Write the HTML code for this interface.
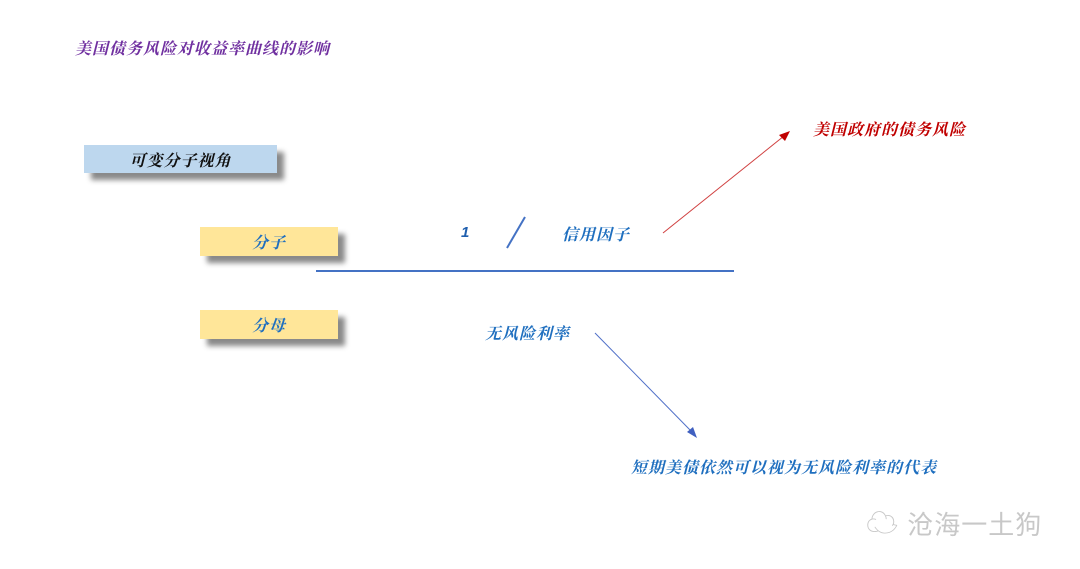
<!DOCTYPE html>
<html><head><meta charset="utf-8"><style>
body{margin:0;width:1080px;height:569px;background:#fff;position:relative;overflow:hidden;font-family:"Liberation Serif","Noto Serif CJK SC",serif;font-style:italic}
.t{position:absolute;white-space:nowrap;line-height:1;font-size:16px;letter-spacing:1px;font-weight:bold}
.box{position:absolute;box-shadow:7px 7px 5px #8a8a8a;display:flex;align-items:center;justify-content:center;font-size:16px;letter-spacing:1px;font-weight:bold}
</style></head><body>
<div class="t" style="left:75px;top:42px;color:#7030a0">美国债务风险对收益率曲线的影响</div>
<div class="box" style="left:84px;top:145px;width:193px;height:28px;background:#bdd7ee;color:#111">可变分子视角</div>
<div class="box" style="left:200px;top:227px;width:138px;height:29px;background:#ffe699;color:#1f6fbf">分子</div>
<div class="box" style="left:200px;top:310px;width:138px;height:29px;background:#ffe699;color:#1f6fbf">分母</div>
<div class="t" style="left:461px;top:225px;color:#1f5fae;font-family:'Liberation Sans',sans-serif;font-size:15px">1</div>
<div class="t" style="left:562px;top:228px;color:#1f6fbf">信用因子</div>
<div class="t" style="left:813px;top:123px;color:#c00000">美国政府的债务风险</div>
<div class="t" style="left:485px;top:327px;color:#1f6fbf">无风险利率</div>
<div class="t" style="left:631px;top:461px;color:#1f6fbf">短期美债依然可以视为无风险利率的代表</div>
<svg style="position:absolute;left:0;top:0" width="1080" height="569">
<line x1="316" y1="271" x2="734" y2="271" stroke="#4472c4" stroke-width="2"/>
<line x1="525" y1="217" x2="507" y2="248" stroke="#4472c4" stroke-width="2"/>
<line x1="663" y1="233" x2="784" y2="136" stroke="#d04040" stroke-width="1"/>
<polygon points="790,131 779,135 785,141" fill="#c00000"/>
<line x1="595" y1="333" x2="692" y2="432" stroke="#5070c8" stroke-width="1"/>
<polygon points="697,438 687,432 693,427" fill="#4060c0"/>
</svg>
<div class="t" style="left:866px;top:507px;font-size:26px;letter-spacing:1px;font-weight:normal;color:#c8c8c8;font-style:normal;font-family:'Liberation Sans','Noto Sans CJK SC',sans-serif"><span style="font-size:32px">☁</span> 沧海一土狗</div>
</body></html>
